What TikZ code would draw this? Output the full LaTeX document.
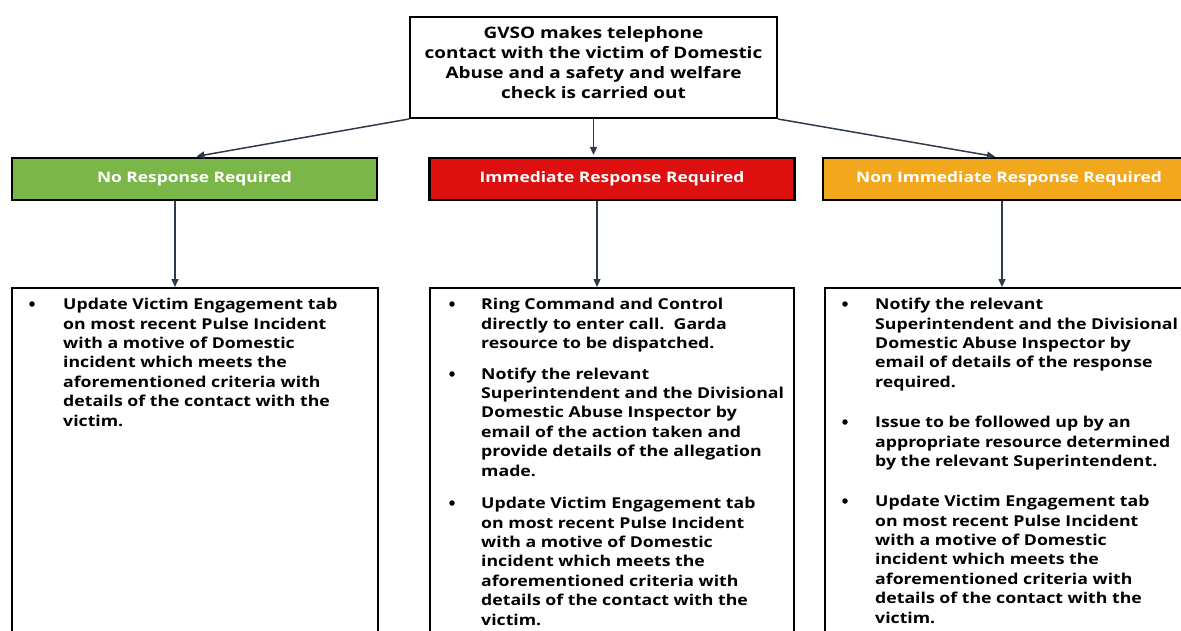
\documentclass[tikz,border=0pt]{standalone}
\usepackage{fontspec}
\setmainfont{Open Sans}
\newfontfamily\bodyfont[FakeStretch=1.18]{Open Sans}
\newfontfamily\topfont[FakeStretch=1.2]{Open Sans}
\newfontfamily\headfont[FakeStretch=1.2]{Open Sans}
\usetikzlibrary{arrows.meta,calc}
\definecolor{arrowcol}{HTML}{2E3B4E}
\definecolor{greenh}{HTML}{7AB648}
\definecolor{redh}{HTML}{DD0F0F}
\definecolor{orangeh}{HTML}{F2A81D}
\tikzset{
  topbox/.style={draw=black, line width=2pt, minimum width=367pt, minimum height=101pt, inner sep=0pt, align=center,
    font=\topfont\fontsize{15.8}{20}\selectfont\bfseries},
  headbox/.style={draw=black, line width=2.2pt, minimum height=42pt, inner sep=0pt, text=white,
    font=\headfont\fontsize{14.5}{17}\selectfont\bfseries},
  outbox/.style={draw=black, line width=2.2pt, minimum height=380pt, inner sep=0pt},
  btext/.style={anchor=north west, inner sep=0pt, align=left, font=\bodyfont\fontsize{15}{19.4}\selectfont\bfseries},
  bdot/.style={circle, fill=black, inner sep=0pt, minimum size=5.5pt},
  arr/.style={draw=arrowcol, line width=1.5pt, -{Triangle[length=8pt,width=7pt]}}
}
\begin{document}
\begin{tikzpicture}[x=1pt,y=-1pt]
\useasboundingbox (0,0) rectangle (1181,630);
\clip (0,0) rectangle (1181,630);
\fill[white] (0,0) rectangle (1181,630);

% top box
\node[topbox] (top) at (593.5,67.5) {GVSO makes telephone\\contact with the victim of Domestic\\Abuse and a safety and welfare\\check is carried out\\[-10pt]};

% headers
\node[headbox, fill=greenh, minimum width=365pt] (h1) at (194.5,179) {No Response Required};
\node[headbox, fill=redh, minimum width=365pt] (h2) at (612,179) {Immediate Response Required};
\node[headbox, fill=orangeh, minimum width=372pt] (h3) at (1009,179) {Non Immediate Response Required};

% output boxes
\node[outbox, minimum width=366pt, anchor=north] (o1) at (195,287) {};
\node[outbox, minimum width=364pt, anchor=north] (o2) at (612,287) {};
\node[outbox, minimum width=372pt, anchor=north] (o3) at (1011,287) {};

% connectors
\draw[arr, shorten >=3pt] (top.south west) -- ([xshift=-1pt]h1.north);
\draw[arr, shorten >=2pt] (top.south) -- (top.south |- h2.north);
\draw[arr, shorten >=2pt] (top.south east) -- ([xshift=-12pt]h3.north);
\draw[arr] ([xshift=-19.5pt]h1.south) -- ([xshift=-20pt]o1.north);
\draw[arr] ([xshift=-15pt]h2.south) -- ([xshift=-15pt]o2.north);
\draw[arr] ([xshift=-7pt]h3.south) -- ([xshift=-9pt]o3.north);

% left box text
\node[bdot] (d11) at (32,304) {};
\node[btext] (t11) at (63,298) {Update Victim Engagement tab\\on most recent Pulse Incident\\with a motive of Domestic\\incident which meets the\\aforementioned criteria with\\details of the contact with the\\victim.};

% middle box text
\node[bdot] (d21) at (452,304) {};
\node[btext] (t21) at (481,298) {Ring Command and Control\\directly to enter call.\ \ Garda\\resource to be dispatched.};
\node[bdot] (d22) at (452,374) {};
\node[btext] (t22) at (481,367.5) {Notify the relevant\\Superintendent and the Divisional\\Domestic Abuse Inspector by\\email of the action taken and\\provide details of the allegation\\made.};
\node[bdot] (d23) at (452,503) {};
\node[btext] (t23) at (481,497) {Update Victim Engagement tab\\on most recent Pulse Incident\\with a motive of Domestic\\incident which meets the\\aforementioned criteria with\\details of the contact with the\\victim.};

% right box text
\node[bdot] (d31) at (845,304) {};
\node[btext] (t31) at (875,298) {Notify the relevant\\Superintendent and the Divisional\\Domestic Abuse Inspector by\\email of details of the response\\required.};
\node[bdot] (d32) at (845,422) {};
\node[btext] (t32) at (875,416) {Issue to be followed up by an\\appropriate resource determined\\by the relevant Superintendent.};
\node[bdot] (d33) at (845,501) {};
\node[btext] (t33) at (875,495) {Update Victim Engagement tab\\on most recent Pulse Incident\\with a motive of Domestic\\incident which meets the\\aforementioned criteria with\\details of the contact with the\\victim.};
\end{tikzpicture}
\end{document}
